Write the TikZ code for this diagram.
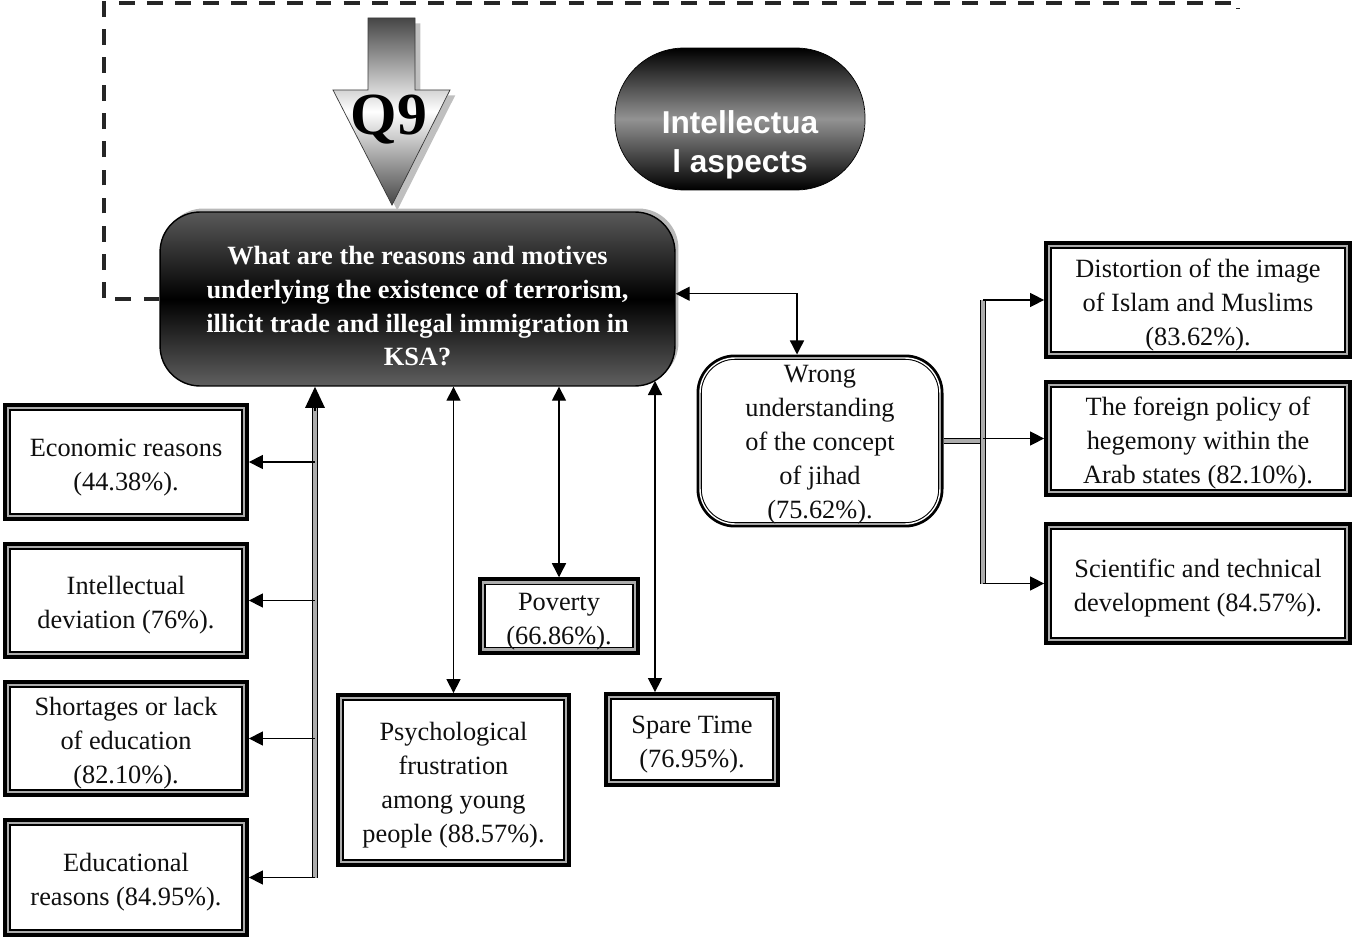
\documentclass[tikz,border=0pt]{standalone}
\usepackage{fontspec}
\setmainfont{Liberation Serif}
\newfontfamily\arialfont{Liberation Sans}
\usetikzlibrary{arrows.meta,shadows,calc}
\definecolor{ink}{RGB}{15,15,15}
\newcommand\lift[1][16pt]{\rule{0pt}{#1}}
\tikzset{
  >={Triangle[length=8pt,width=8pt]},
  txt/.style={font=\fontsize{15}{19.3}\selectfont,align=center,text=ink},
  reason/.style={txt,preaction={draw=black,line width=5.6pt},fill=white,draw=black,
    line width=0.7pt,double=gray!65,double distance=1.6pt,outer sep=2.8pt,inner sep=1pt},
  core/.style={rounded corners=0.8cm,minimum width=10.3cm,minimum height=3.48cm,
    top color=gray!70!black,bottom color=gray!75!black,middle color=black,draw=black,line width=0.8pt,
    text=white,font=\bfseries\fontsize{15}{19.3}\selectfont,align=center,
    general shadow={shadow xshift=2pt,shadow yshift=2pt,fill=gray!55}},
  aspect/.style={rounded corners=1.38cm,minimum width=5cm,minimum height=2.84cm,
    top color=black,bottom color=black,middle color=gray!85,draw=black,
    text=white,font=\arialfont\bfseries\fontsize{18}{22.7}\selectfont,align=center},
  concept/.style={txt,rounded corners=0.7cm,preaction={draw=black,line width=4pt},fill=white,
    draw=black,line width=0.6pt,double=white,double distance=0.8pt,outer sep=2pt,inner sep=0pt},
  twin/.style={draw=black,line width=0.7pt,double=gray!65,double distance=2pt},
  link/.style={->,thick},
  both/.style={<->,thick},
  backline/.style={draw=black!85,line width=2.2pt,dash pattern=on 9pt off 7pt},
}
\begin{document}
\begin{tikzpicture}[x=0.02cm,y=-0.02cm]
  \useasboundingbox (0,0) rectangle (1356,942);
  % question arrow
  \path[top color=gray!55!black,bottom color=gray!55!black,middle color=white,draw=gray!45!black,
    drop shadow={shadow xshift=3pt,shadow yshift=-3pt,opacity=0.5}]
    (368,18) -- (415,18) -- (415,90) -- (450,90) -- (392,205) -- (333,90) -- (368,90) -- cycle;
  \node[font=\bfseries\fontsize{34}{34}\selectfont] (q) at (389,120) {Q9};

  \node[aspect] (aspect) at (740,119) {\lift[42.5pt]Intellectua\\l aspects};
  \node[core] (centre) at (417.5,299) {\lift[18.5pt]What are the reasons and motives\\underlying the existence of terrorism,\\illicit trade and illegal immigration in\\KSA?};
  \draw[backline] (centre.west) -- ++(-55,0) |- (1238,3) -- ++(0,6);

  \node[reason,minimum width=4.72cm,minimum height=2.16cm] (econ) at (126,462) {\lift Economic reasons\\(44.38\%).};
  \node[reason,minimum width=4.72cm,minimum height=2.14cm] (deviation) at (126,600.5) {\lift Intellectual\\deviation (76\%).};
  \node[reason,minimum width=4.72cm,minimum height=2.14cm] (shortage) at (126,738.5) {\lift Shortages or lack\\of education\\(82.10\%).};
  \node[reason,minimum width=4.72cm,minimum height=2.18cm] (educ) at (126,877.5) {\lift Educational\\reasons (84.95\%).};

  \node[reason,minimum width=4.5cm,minimum height=3.28cm] (psych) at (453.5,780) {\lift Psychological\\frustration\\among young\\people (88.57\%).};
  \node[reason,minimum width=3.04cm,minimum height=1.24cm,inner sep=0pt] (poverty) at (559,616) {\lift Poverty\\(66.86\%).};
  \node[reason,minimum width=3.32cm,minimum height=1.7cm] (spare) at (692,739.5) {\lift Spare Time\\(76.95\%).};

  \node[concept,minimum width=4.8cm,minimum height=3.32cm] (wrong) at (820,441) {\lift[14pt]Wrong\\understanding\\of the concept\\of jihad\\(75.62\%).};

  \node[reason,minimum width=5.96cm,minimum height=2.16cm] (distort) at (1198,300) {\lift Distortion of the image\\of Islam and Muslims\\(83.62\%).};
  \node[reason,minimum width=5.96cm,minimum height=2.14cm] (foreign) at (1198,438.5) {\lift The foreign policy of\\hegemony within the\\Arab states (82.10\%).};
  \node[reason,minimum width=5.96cm,minimum height=2.26cm] (science) at (1198,583.5) {\lift Scientific and technical\\development (84.57\%).};

  % left trunk
  \coordinate (ltrunk) at (315,0);
  \draw[twin,shorten >=12pt] (ltrunk |- educ.east) -- (ltrunk |- centre.south);
  \draw[-{Triangle[length=12pt,width=11pt]},line width=1pt] ([yshift=-14pt]ltrunk |- centre.south) -- (ltrunk |- centre.south);
  \foreach \b in {econ,deviation,shortage,educ}
    \draw[link] (ltrunk |- \b.east) -- (\b.east);

  \coordinate (sparetop) at (655,381);
  \draw[both] (psych.north) -- (psych.north |- centre.south);
  \draw[both] (poverty.north) -- (poverty.north |- centre.south);
  \draw[both] (spare.north -| sparetop) -- (sparetop);
  \draw[both] ([yshift=3pt]centre.east) -| ([xshift=-0.46cm]wrong.north);

  % right trunk
  \coordinate (rtrunk) at (983,0);
  \draw[twin] (wrong.east) -- (rtrunk |- wrong.east);
  \draw[twin] (rtrunk |- distort.west) -- (rtrunk |- science.west);
  \foreach \b in {distort,foreign,science}
    \draw[link] (rtrunk |- \b.west) -- (\b.west);
\end{tikzpicture}
\end{document}
